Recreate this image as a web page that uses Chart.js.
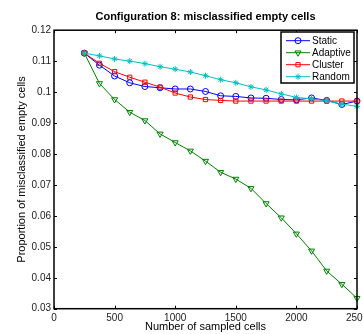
<!DOCTYPE html>
<html>
<head>
<meta charset="utf-8">
<script src="https://cdn.jsdelivr.net/npm/chart.js@4/dist/chart.umd.min.js"></script>
<style>
html,body{margin:0;padding:0;background:#fff;overflow:hidden;}
#wrap{width:363px;height:334px;}
</style>
</head>
<body>
<div id="wrap"><canvas id="c" width="363" height="334"></canvas></div>
<script>
const sampledCells = [250,375,500,625,750,875,1000,1125,1250,1375,1500,1625,1750,1875,2000,2125,2250,2375,2500];
const staticVals   = [0.1126,0.1087,0.1052,0.1030,0.1018,0.1014,0.1010,0.1010,0.1002,0.0988,0.0986,0.0981,0.0980,0.0976,0.0975,0.0981,0.0973,0.0960,0.0971];
const adaptiveVals = [0.1126,0.1028,0.0976,0.0935,0.0908,0.0865,0.0837,0.0810,0.0777,0.0741,0.0719,0.0689,0.0640,0.0594,0.0542,0.0487,0.0422,0.0379,0.0334];
const clusterVals  = [0.1126,0.1093,0.1066,0.1048,0.1032,0.1016,0.0997,0.0984,0.0976,0.0973,0.0971,0.0971,0.0971,0.0971,0.0971,0.0971,0.0971,0.0971,0.0971];
const randomVals   = [0.1126,0.1117,0.1107,0.1100,0.1092,0.1082,0.1074,0.1065,0.1053,0.1040,0.1030,0.1017,0.1007,0.0994,0.0983,0.0978,0.0972,0.0961,0.0954];
const xTicks = [0,500,1000,1500,2000,2500];
const yTicks = [0.03,0.04,0.05,0.06,0.07,0.08,0.09,0.1,0.11,0.12];
const seriesNames = ['Static','Adaptive','Cluster','Random'];

const FONT = '"Liberation Sans", Arial, sans-serif';
const pts = arr => arr.map((v,i)=>({x:sampledCells[i], y:v}));

const styles = [
  {color:'#0000ff', pointStyle:'circle', radius:3, rotation:0},
  {color:'#008000', pointStyle:'triangle', radius:3.5, rotation:180},
  {color:'#ff0000', pointStyle:'rect', radius:3, rotation:0},
  {color:'#00bfbf', pointStyle:'star', radius:3, rotation:0}
];
const values = [staticVals, adaptiveVals, clusterVals, randomVals];

const datasets = values.map((vals,i)=>({
  label: seriesNames[i],
  data: pts(vals),
  borderColor: styles[i].color,
  backgroundColor: 'rgba(0,0,0,0)',
  borderWidth: 1,
  pointStyle: styles[i].pointStyle,
  pointRadius: styles[i].radius,
  pointRotation: styles[i].rotation,
  pointBorderColor: styles[i].color,
  pointBackgroundColor: 'rgba(0,0,0,0)',
  pointBorderWidth: 1,
  tension: 0,
  order: 4 - i,
  clip: false
}));

const framePlugin = {
  id: 'frame',
  afterDraw(chart) {
    const {ctx, chartArea: a, scales} = chart;
    ctx.save();
    ctx.strokeStyle = '#000';
    ctx.lineWidth = 1;
    const tl = 3;
    ctx.beginPath();
    scales.x.ticks.forEach(t => {
      const px = Math.round(scales.x.getPixelForValue(t.value)) + 0.5;
      ctx.moveTo(px, a.bottom); ctx.lineTo(px, a.bottom - tl);
      ctx.moveTo(px, a.top); ctx.lineTo(px, a.top + tl);
    });
    scales.y.ticks.forEach(t => {
      const py = Math.round(scales.y.getPixelForValue(t.value)) + 0.5;
      ctx.moveTo(a.left, py); ctx.lineTo(a.left + tl, py);
      ctx.moveTo(a.right, py); ctx.lineTo(a.right - tl, py);
    });
    ctx.stroke();
    ctx.lineWidth = 1.5;
    ctx.strokeRect(a.left, a.top, a.right - a.left, a.bottom - a.top);

    // legend box
    const lx = 281, ly = 32, lw = 73, lh = 51;
    ctx.fillStyle = '#fff';
    ctx.fillRect(lx, ly, lw, lh);
    ctx.lineWidth = 1.5;
    ctx.strokeStyle = '#000';
    ctx.strokeRect(lx, ly, lw, lh);
    ctx.font = '10px ' + FONT;
    ctx.textBaseline = 'middle';
    ctx.textAlign = 'left';
    seriesNames.forEach((name, i) => {
      const y = ly + 8.7 + i * 12;
      const s = styles[i];
      ctx.strokeStyle = s.color;
      ctx.lineWidth = 1;
      ctx.beginPath();
      ctx.moveTo(lx + 5, y); ctx.lineTo(lx + 29, y);
      ctx.stroke();
      ctx.fillStyle = 'rgba(0,0,0,0)';
      Chart.helpers.drawPoint(ctx, {pointStyle: s.pointStyle, radius: s.radius, rotation: s.rotation, borderWidth: 1}, lx + 17, y);
      ctx.fillStyle = '#000';
      ctx.fillText(name, lx + 31, y + 0.5);
    });
    ctx.restore();
  }
};

new Chart(document.getElementById('c'), {
  type: 'line',
  data: { datasets },
  options: {
    responsive: false,
    animation: false,
    events: [],
    layout: { autoPadding: false, padding: { top: 0, right: 6, bottom: 0, left: 0 } },
    plugins: {
      legend: { display: false },
      tooltip: { enabled: false },
      title: {
        display: true,
        fullSize: false,
        text: 'Configuration 8: misclassified empty cells',
        color: '#000',
        font: { family: FONT, size: 11, weight: 'bold', lineHeight: 1.2 },
        padding: { top: 10, bottom: 7 }
      }
    },
    scales: {
      x: {
        type: 'linear',
        min: 0, max: 2500,
        afterBuildTicks: s => { s.ticks = xTicks.map(v => ({value: v})); },
        afterFit: s => { s.height = 25.3; s.paddingLeft = 0; s.paddingRight = 0; },
        grid: { display: false, drawTicks: false },
        border: { display: false },
        ticks: { color: '#222', font: { family: FONT, size: 10 }, padding: 4, maxRotation: 0, autoSkip: false,
          callback: v => String(v) },
        title: {
          display: true, text: 'Number of sampled cells', color: '#000',
          font: { family: FONT, size: 11, lineHeight: 1.2 }, padding: { top: 0, bottom: 0 }
        }
      },
      y: {
        type: 'linear',
        min: 0.03, max: 0.12,
        afterBuildTicks: s => { s.ticks = yTicks.map(v => ({value: v})); },
        afterFit: s => { s.width = 54; s.paddingTop = 0; s.paddingBottom = 0; },
        grid: { display: false, drawTicks: false },
        border: { display: false },
        ticks: { color: '#222', font: { family: FONT, size: 10 }, padding: 3, autoSkip: false,
          callback: v => String(+v.toFixed(2)) },
        title: {
          display: true, text: 'Proportion of misclassified empty cells', color: '#000',
          font: { family: FONT, size: 11, lineHeight: 1.2 }, padding: { top: 15, bottom: 0 }
        }
      }
    }
  },
  plugins: [framePlugin]
});
</script>
</body>
</html>
